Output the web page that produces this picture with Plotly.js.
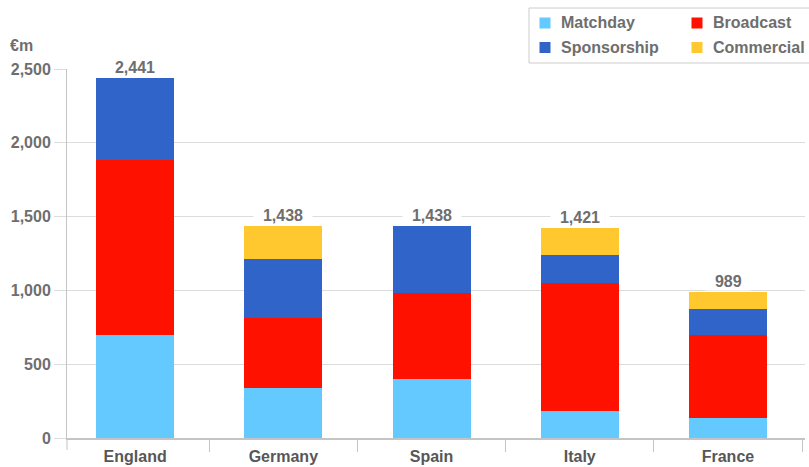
<!DOCTYPE html>
<html>
<head>
<meta charset="utf-8">
<script src="https://cdn.plot.ly/plotly-3.0.1.min.js"></script>
<style>
  html, body { margin: 0; padding: 0; background: #ffffff; }
  #chart { width: 809px; height: 467px; }
</style>
</head>
<body>
<div id="chart"></div>
<script>
// League revenue by source, €m
const countries   = ['England', 'Germany', 'Spain', 'Italy', 'France'];
const matchday    = [700, 336, 397, 184, 135];
const broadcast   = [1183, 479, 585, 868, 566];
const sponsorship = [558, 399, 456, 189, 175];
const commercial  = [0, 224, 0, 180, 113];
const yTicks      = [0, 500, 1000, 1500, 2000, 2500];
const seriesNames = ['Matchday', 'Broadcast', 'Sponsorship', 'Commercial'];

const seriesColors = {
  Matchday: '#63c9ff',
  Broadcast: '#ff1100',
  Sponsorship: '#3064c8',
  Commercial: '#ffc82e'
};

const FONT = 'Arial, "Liberation Sans", Helvetica, sans-serif';
const TEXT = '#6e6e6e';
const GRID = '#dcdcdc';
const AXIS = '#c4c4c4';
const textFont = { family: FONT, size: 16, color: TEXT, weight: 'bold' };

// Plot area geometry in pixels, used to place the key box in paper units
const W = 809, H = 467;
const M = { l: 67, r: 4, t: 69, b: 29 };
const plotW = W - M.l - M.r, plotH = H - M.t - M.b;
const px = x => (x - M.l) / plotW;
const py = y => (H - M.b - y) / plotH;

function barTrace(name, values) {
  return {
    type: 'bar',
    name: name,
    x: countries,
    y: values,
    marker: { color: seriesColors[name], line: { width: 0 } },
    hoverinfo: 'x+y+name',
    showlegend: false
  };
}

const traces = [
  barTrace('Matchday', matchday),
  barTrace('Broadcast', broadcast),
  barTrace('Sponsorship', sponsorship),
  barTrace('Commercial', commercial)
];

// Totals on top of each stacked column
const totals = countries.map((c, i) => matchday[i] + broadcast[i] + sponsorship[i] + commercial[i]);
const totalLabels = totals.map((t, i) => ({
  x: countries[i],
  y: t,
  xref: 'x',
  yref: 'y',
  text: '\u00a0\u00a0' + t.toLocaleString('en-US') + '\u00a0\u00a0',
  showarrow: false,
  yanchor: 'bottom',
  yshift: 1,
  bgcolor: '#ffffff',
  borderpad: 0,
  font: textFont
}));

const unitLabel = {
  xref: 'paper', yref: 'paper',
  x: px(8), y: py(45),
  xanchor: 'left', yanchor: 'middle',
  text: '€m',
  showarrow: false,
  font: textFont
};

// Key: two columns, two rows, in a framed box at the top right
const keyCols = [545, 697];
const keyRows = [23, 47.5];
const keySize = 11;
const keyShapes = [{
  type: 'rect', xref: 'paper', yref: 'paper',
  x0: px(529), x1: px(830), y0: py(63), y1: py(8),
  line: { color: '#cccccc', width: 1 }, fillcolor: '#ffffff', layer: 'above'
}];
const keyLabels = [];
seriesNames.forEach((name, k) => {
  const cx = keyCols[k % 2], cy = keyRows[Math.floor(k / 2)];
  keyShapes.push({
    type: 'rect', xref: 'paper', yref: 'paper',
    x0: px(cx - keySize / 2), x1: px(cx + keySize / 2),
    y0: py(cy + keySize / 2), y1: py(cy - keySize / 2),
    line: { width: 0 }, fillcolor: seriesColors[name], layer: 'above'
  });
  keyLabels.push({
    xref: 'paper', yref: 'paper',
    x: px(cx + 14), y: py(cy),
    xanchor: 'left', yanchor: 'middle',
    text: name, showarrow: false,
    font: textFont
  });
});

const layout = {
  width: W,
  height: H,
  margin: M,
  paper_bgcolor: '#ffffff',
  plot_bgcolor: '#ffffff',
  barmode: 'stack',
  bargap: 0.474,
  font: textFont,
  showlegend: false,
  xaxis: {
    type: 'category',
    range: [-0.46, 4.52],
    showgrid: false,
    showline: true,
    linecolor: AXIS,
    linewidth: 2,
    ticks: 'outside',
    tickson: 'boundaries',
    ticklen: 12,
    tickcolor: AXIS,
    tickwidth: 1,
    ticklabelstandoff: 3,
    tickfont: { family: FONT, size: 16, color: '#575757', weight: 'bold' },
    zeroline: false,
    fixedrange: true
  },
  yaxis: {
    range: [0, 2500],
    tickvals: yTicks,
    tickformat: ',d',
    showgrid: true,
    gridcolor: GRID,
    gridwidth: 1,
    showline: true,
    linecolor: AXIS,
    linewidth: 1,
    ticks: 'outside',
    ticklen: 12,
    tickcolor: GRID,
    tickwidth: 1,
    tickfont: textFont,
    zeroline: false,
    fixedrange: true
  },
  // the y-axis line continues below the baseline like the category dividers
  shapes: [{
    type: 'line',
    xref: 'paper', yref: 'paper',
    x0: 0, x1: 0, y0: 0, y1: -12 / plotH,
    line: { color: AXIS, width: 1 }
  }].concat(keyShapes),
  annotations: totalLabels.concat([unitLabel], keyLabels)
};

Plotly.newPlot('chart', traces, layout, { displayModeBar: false, staticPlot: true });
</script>
</body>
</html>
